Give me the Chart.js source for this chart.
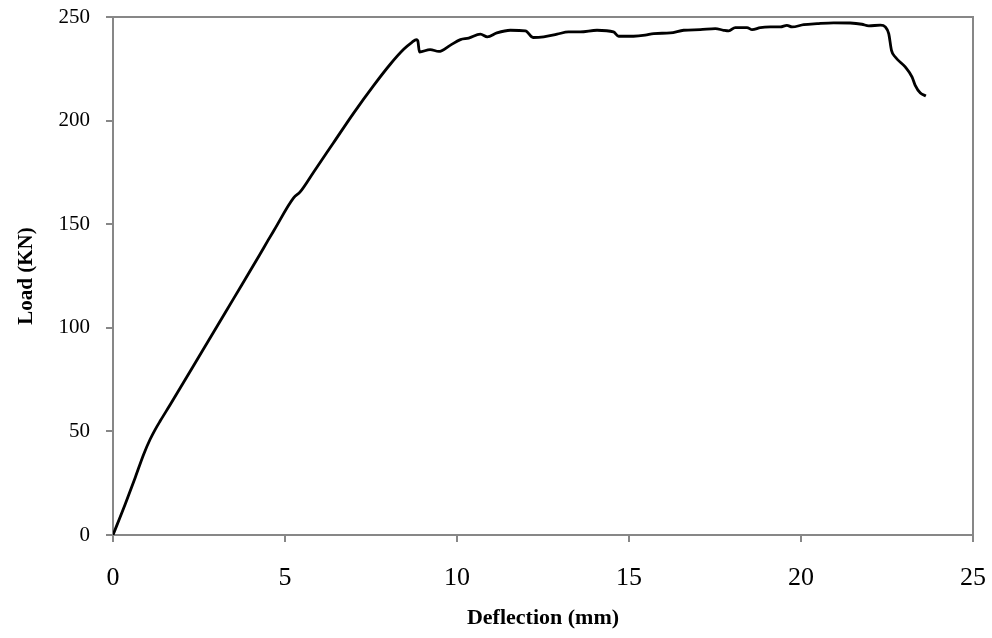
<!DOCTYPE html>
<html>
<head>
<meta charset="utf-8">
<script src="https://cdn.jsdelivr.net/npm/chart.js@4/dist/chart.umd.min.js"></script>
<style>
  html, body { margin: 0; padding: 0; background: #ffffff; }
  #wrap { width: 992px; height: 638px; }
</style>
</head>
<body>
<div id="wrap"><canvas id="chart" width="992" height="638"></canvas></div>
<script>
// Load–deflection response of the test specimen
const deflection = [
  0, 0.36, 0.65, 0.89, 1.08, 1.23, 1.375, 1.67, 2.54, 3.51, 4.26, 4.51, 4.69,
  5.25, 5.44, 5.83, 6.41, 6.99, 7.58, 8.06, 8.45, 8.69, 8.82, 8.86,
  8.91, 9.22, 9.47, 9.8, 10.1, 10.34, 10.68, 10.88, 11.16, 11.55, 11.99, 12.21,
  12.52, 12.91, 13.24, 13.58, 14.07, 14.55, 14.7, 15.13, 15.47, 15.72, 16.2,
  16.59, 17.07, 17.51, 17.75, 17.9, 18.09, 18.43, 18.58, 18.82, 19.11, 19.4,
  19.59, 19.74, 20.08, 20.47, 20.95, 21.43, 21.77, 21.97, 22.31, 22.45, 22.55,
  22.63, 22.74, 23.03, 23.23, 23.32, 23.47, 23.63
];
const load = [
  0, 15.1, 27.9, 38.9, 46.2, 51.0, 55.1, 63.1, 87.2, 114.2, 135.1, 142.3, 147.3,
  162.7, 165.6, 175.1, 189.3, 203.5, 217.0, 227.2, 234.4, 237.8, 239.1, 238.5,
  233.1, 234.3, 233.4, 236.3, 239.1, 239.8, 241.7, 240.4, 242.3, 243.6, 243.3, 240.1,
  240.4, 241.7, 242.8, 242.8, 243.6, 242.8, 240.7, 240.7, 241.2, 242.0, 242.3,
  243.6, 243.9, 244.4, 243.6, 243.3, 244.9, 244.9, 243.9, 244.9, 245.2, 245.2,
  246.0, 245.2, 246.3, 246.8, 247.2, 247.1, 246.5, 245.7, 246.1, 245.2, 242.0,
  233.9, 230.7, 225.9, 221.0, 217.0, 213.3, 211.9
];
const xTicks = [0, 5, 10, 15, 20, 25];
const yTicks = [0, 50, 100, 150, 200, 250];
const xTitle = 'Deflection (mm)';
const yTitle = 'Load (KN)';

const axisGrey = '#878787';
const serif = '"Liberation Serif", "Times New Roman", serif';

// Closes the plot box with a top and right edge
const frame = {
  id: 'frame',
  beforeDatasetsDraw(chart) {
    const { ctx, chartArea: a } = chart;
    ctx.save();
    ctx.strokeStyle = axisGrey;
    ctx.lineWidth = 2;
    ctx.beginPath();
    ctx.moveTo(a.left, a.top);
    ctx.lineTo(a.right, a.top);
    ctx.lineTo(a.right, a.bottom);
    ctx.stroke();
    ctx.restore();
  }
};

new Chart(document.getElementById('chart'), {
  type: 'line',
  data: {
    datasets: [{
      data: deflection.map((d, i) => ({ x: d, y: load[i] })),
      borderColor: '#000000',
      borderWidth: 2.8,
      pointRadius: 0,
      fill: false,
      cubicInterpolationMode: 'monotone'
    }]
  },
  options: {
    responsive: false,
    animation: false,
    layout: { padding: { top: 17, right: 19, left: 0, bottom: 0 } },
    plugins: { legend: { display: false }, tooltip: { enabled: false } },
    scales: {
      x: {
        type: 'linear',
        min: 0, max: 25,
        afterFit(s) { s.height = 103; s.paddingLeft = 0; s.paddingRight = 0; },
        afterBuildTicks(s) { s.ticks = xTicks.map(v => ({ value: v })); },
        grid: { drawOnChartArea: false, drawTicks: true, tickLength: 7, color: axisGrey, lineWidth: 2 },
        border: { display: true, color: axisGrey, width: 2 },
        ticks: { color: '#000000', font: { family: serif, size: 26 }, padding: 21, maxRotation: 0 },
        title: { display: true, text: xTitle, color: '#000000', font: { family: serif, size: 22, weight: 'bold' }, padding: { top: 0, bottom: 6 } }
      },
      y: {
        type: 'linear',
        min: 0, max: 250,
        afterFit(s) { s.width = 113; s.paddingTop = 0; s.paddingBottom = 0; },
        afterBuildTicks(s) { s.ticks = yTicks.map(v => ({ value: v })); },
        grid: { drawOnChartArea: false, drawTicks: true, tickLength: 7, color: axisGrey, lineWidth: 2 },
        border: { display: true, color: axisGrey, width: 2 },
        ticks: { color: '#000000', font: { family: serif, size: 21 }, padding: 16 },
        title: { display: true, text: yTitle, color: '#000000', font: { family: serif, size: 21, weight: 'bold' }, padding: { top: 14, bottom: 0 } }
      }
    }
  },
  plugins: [frame]
});
</script>
</body>
</html>
